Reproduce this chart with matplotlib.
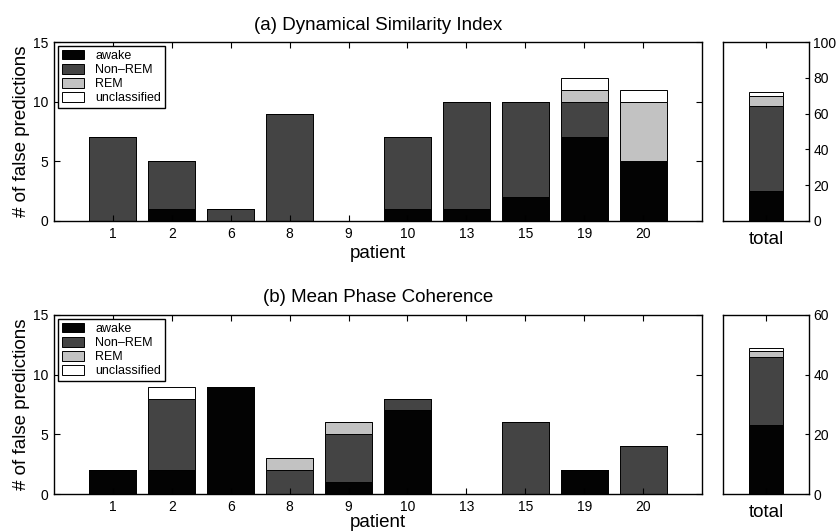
import matplotlib

matplotlib.use("Agg")
import matplotlib.pyplot as plt
import numpy as np

plt.rcParams["font.family"] = ["Liberation Sans", "DejaVu Sans"]

patients = ["1", "2", "6", "8", "9", "10", "13", "15", "19", "20"]
stages = ["awake", "Non\u2013REM", "REM", "unclassified"]
stage_colors = ["#030303", "#444444", "#c2c2c2", "#ffffff"]

# (a) Dynamical Similarity Index
dsi_awake = [0, 1, 0, 0, 0, 1, 1, 2, 7, 5]
dsi_nonrem = [7, 4, 1, 9, 0, 6, 9, 8, 3, 0]
dsi_rem = [0, 0, 0, 0, 0, 0, 0, 0, 1, 5]
dsi_uncl = [0, 0, 0, 0, 0, 0, 0, 0, 1, 1]

# (b) Mean Phase Coherence
mpc_awake = [2, 2, 9, 0, 1, 7, 0, 0, 2, 0]
mpc_nonrem = [0, 6, 0, 2, 4, 1, 0, 6, 0, 4]
mpc_rem = [0, 0, 0, 1, 1, 0, 0, 0, 0, 0]
mpc_uncl = [0, 1, 0, 0, 0, 0, 0, 0, 0, 0]

panels = [
    ("(a) Dynamical Similarity Index", [dsi_awake, dsi_nonrem, dsi_rem, dsi_uncl], [0, 20, 40, 60, 80, 100]),
    ("(b) Mean Phase Coherence", [mpc_awake, mpc_nonrem, mpc_rem, mpc_uncl], [0, 20, 40, 60]),
]

W, H = 836, 532
fig = plt.figure(figsize=(W / 100, H / 100), dpi=100)


def px_axes(x0, y0, x1, y1):
    return fig.add_axes([x0 / W, 1 - y1 / H, (x1 - x0) / W, (y1 - y0) / H])


def style(ax):
    for s in ax.spines.values():
        s.set_linewidth(1.0)
    ax.tick_params(direction="in", length=4, width=0.8, labelsize=10, pad=4)


tops = [42, 315]
xlabel_pads = [3, 0]
for (title, series, tot_ticks), top, xpad in zip(panels, tops, xlabel_pads):
    bottom = top + 179
    ax = px_axes(54, top, 702, bottom)
    axt = px_axes(723, top, 809, bottom)

    x = np.arange(1, len(patients) + 1)
    base = np.zeros(len(patients))
    tbase = 0
    for vals, lab, col in zip(series, stages, stage_colors):
        vals = np.array(vals, dtype=float)
        ax.bar(x, vals, 0.8, bottom=base, color=col, edgecolor="black", linewidth=0.7, label=lab)
        base += vals
        tot = vals.sum()
        axt.bar([1], [tot], 0.8, bottom=tbase, color=col, edgecolor="black", linewidth=0.7)
        tbase += tot

    ax.set_xlim(0, 11)
    ax.set_ylim(0, 15)
    ax.set_xticks(x)
    ax.set_xticklabels(patients)
    ax.set_yticks([0, 5, 10, 15])
    style(ax)
    ax.tick_params(top=True, right=True)
    ax.set_xlabel("patient", fontsize=13.5, labelpad=xpad)
    ax.set_ylabel("# of false predictions", fontsize=13.5, labelpad=2)
    ax.set_title(title, fontsize=13.5, pad=9)
    leg = ax.legend(loc="upper left", fontsize=9, frameon=True, fancybox=False,
                    edgecolor="black", framealpha=1, handlelength=1.8, handleheight=0.85,
                    labelspacing=0.15, borderpad=0.3, handletextpad=0.9,
                    borderaxespad=0.3)
    leg.get_frame().set_linewidth(1.0)

    axt.set_xlim(0, 2)
    axt.set_ylim(0, tot_ticks[-1])
    axt.set_xticks([1])
    axt.set_xticklabels(["total"])
    axt.set_yticks(tot_ticks)
    axt.yaxis.tick_right()
    style(axt)
    axt.tick_params(axis="x", top=True, labelsize=13.5, pad=7)
    axt.tick_params(axis="y", left=False, right=True, length=3, pad=3)

fig.savefig("out.png", dpi=100)
